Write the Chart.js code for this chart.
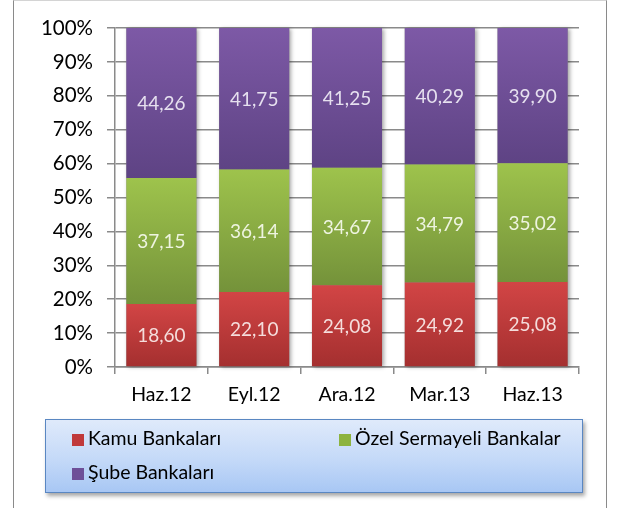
<!DOCTYPE html>
<html>
<head>
<meta charset="utf-8">
<script src="https://cdn.jsdelivr.net/npm/chart.js@4/dist/chart.umd.min.js"></script>
<style>
  html, body { margin: 0; padding: 0; background: #fff; }
  #wrap { position: relative; width: 619px; height: 508px; overflow: hidden; font-family: Lato, "Open Sans", sans-serif; }
  #frame { position: absolute; left: 13px; top: 0px; width: 594px; height: 530px; border-left: 1.5px solid #8a8a8a; border-right: 1.5px solid #8a8a8a; border-top: 1px solid #d4d4d4; box-sizing: border-box; }
  canvas { position: absolute; left: 0; top: 0; }
  #legend { position: absolute; left: 45px; top: 419px; width: 538px; height: 74px; box-sizing: border-box;
    background: linear-gradient(to bottom, #dfeafb 0%, #c4d9f8 55%, #a8c7f4 100%);
    border: 1.5px solid #5a87c2; box-shadow: 2px 3px 4px rgba(0,0,0,0.35); }
  .item { position: absolute; font-size: 19.5px; color: #000; white-space: nowrap; line-height: 20px; }
  .item span.box { display: inline-block; width: 12px; height: 12px; margin-right: 4px; vertical-align: -1px; }
</style>
</head>
<body>
<div id="wrap">
  <div id="frame"></div>
  <canvas id="c" width="619" height="508"></canvas>
  <div id="legend"></div>
</div>
<script>
const categories = ['Haz.12', 'Eyl.12', 'Ara.12', 'Mar.13', 'Haz.13'];
const seriesNames = ['Kamu Bankaları', 'Özel Sermayeli Bankalar', 'Şube Bankaları'];
const kamu = [18.60, 22.10, 24.08, 24.92, 25.08];
const ozel = [37.15, 36.14, 34.67, 34.79, 35.02];
const sube = [44.26, 41.75, 41.25, 40.29, 39.90];
const yTicks = [0, 10, 20, 30, 40, 50, 60, 70, 80, 90, 100];

const topColors = ['#d24545', '#9ec34c', '#7d59a6'];
const botColors = ['#a42f2f', '#74923a', '#5e4384'];
const labelColors = ['#f5dddc', '#eef4e0', '#e6e0ef'];
const legendColors = ['#c0393b', '#8db33f', '#6e4f98'];
const seriesData = [kamu, ozel, sube];

function gradFill(di) {
  return function(ctx) {
    const chart = ctx.chart;
    const y = chart.scales.y;
    if (!chart.chartArea || !y || ctx.dataIndex === undefined) return topColors[di];
    let start = 0;
    for (let k = 0; k < di; k++) start += seriesData[k][ctx.dataIndex];
    const end = start + seriesData[di][ctx.dataIndex];
    const yTop = y.getPixelForValue(Math.min(end, 100));
    const yBot = y.getPixelForValue(start);
    const g = chart.ctx.createLinearGradient(0, yTop, 0, yBot);
    g.addColorStop(0, topColors[di]);
    g.addColorStop(1, botColors[di]);
    return g;
  };
}

const shadowPlugin = {
  id: 'stackShadow',
  beforeDatasetsDraw(chart) {
    const c = chart.ctx;
    const first = chart.getDatasetMeta(0).data;
    const last = chart.getDatasetMeta(chart.data.datasets.length - 1).data;
    c.save();
    c.shadowColor = 'rgba(0,0,0,0.35)';
    c.shadowBlur = 4;
    c.shadowOffsetX = 2;
    c.shadowOffsetY = 1;
    c.fillStyle = '#888';
    first.forEach((el, i) => {
      const w = el.width;
      const top = last[i].y;
      c.fillRect(el.x - w / 2, top, w, el.base - top);
    });
    c.restore();
  }
};

const labelPlugin = {
  id: 'valLabels',
  afterDatasetsDraw(chart) {
    const c = chart.ctx;
    c.save();
    c.font = '19px Lato, "Open Sans", sans-serif';
    c.textAlign = 'center';
    c.textBaseline = 'middle';
    chart.data.datasets.forEach((ds, di) => {
      const meta = chart.getDatasetMeta(di);
      c.fillStyle = labelColors[di];
      meta.data.forEach((el, i) => {
        const v = ds.data[i];
        c.fillText(v.toFixed(2).replace('.', ','), el.x, (el.y + el.base) / 2 + 1);
      });
    });
    c.restore();
  }
};

const chart = new Chart(document.getElementById('c'), {
  type: 'bar',
  data: {
    labels: categories,
    datasets: seriesNames.map((n, i) => ({
      label: n,
      data: seriesData[i],
      backgroundColor: gradFill(i),
      borderWidth: 0,
      barPercentage: 0.755,
      categoryPercentage: 1.0
    }))
  },
  options: {
    responsive: false,
    animation: false,
    events: [],
    layout: { padding: { left: 0, right: 40, top: 28, bottom: 95 } },
    plugins: { legend: { display: false }, tooltip: { enabled: false } },
    scales: {
      x: {
        stacked: true,
        offset: true,
        grid: { offset: true, drawOnChartArea: false, drawTicks: true, tickLength: 7, color: '#8a8a8a', lineWidth: 1.5 },
        border: { display: true, color: '#8a8a8a', width: 1.5 },
        ticks: { color: '#000', font: { family: 'Lato, "Open Sans", sans-serif', size: 19.5 }, padding: 9, maxRotation: 0 },
        afterFit(s) { s.height = 46; }
      },
      y: {
        stacked: true,
        min: 0, max: 100,
        afterBuildTicks(s) { s.ticks = yTicks.map(v => ({ value: v })); },
        grid: { color: '#8a8a8a', lineWidth: 1.5, tickLength: 8, drawTicks: true },
        border: { display: true, color: '#8a8a8a', width: 1.5 },
        ticks: { color: '#000', font: { family: 'Lato, "Open Sans", sans-serif', size: 20.5 }, padding: 14, callback: v => v + '%' },
        afterFit(s) { s.width = 115; }
      }
    }
  },
  plugins: [shadowPlugin, labelPlugin]
});

// HTML legend built from the chart's datasets
const legend = document.getElementById('legend');
const pos = [[26, 8], [293, 8], [26, 42]];
chart.data.datasets.forEach((ds, i) => {
  const d = document.createElement('div');
  d.className = 'item';
  d.style.left = pos[i][0] + 'px';
  d.style.top = pos[i][1] + 'px';
  const b = document.createElement('span');
  b.className = 'box';
  b.style.background = legendColors[i];
  d.appendChild(b);
  d.appendChild(document.createTextNode(ds.label));
  legend.appendChild(d);
});
</script>
</body>
</html>
